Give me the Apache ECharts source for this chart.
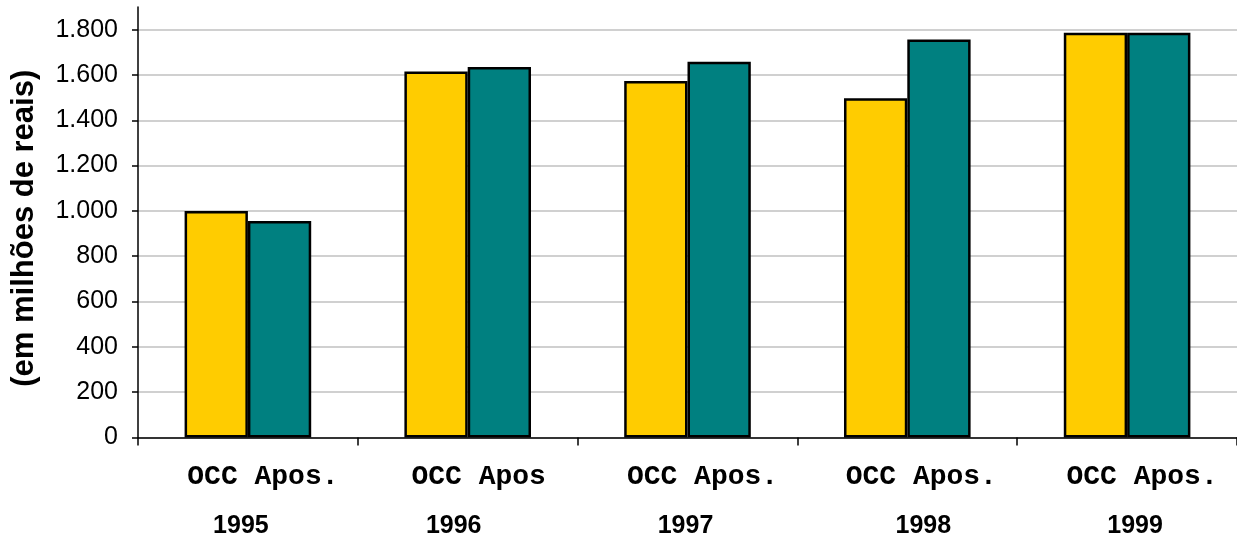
<!DOCTYPE html>
<html>
<head>
<meta charset="utf-8">
<script src="https://cdn.jsdelivr.net/npm/echarts@6/dist/echarts.min.js"></script>
<style>
  html, body { margin: 0; padding: 0; background: #ffffff; }
  #chart { width: 1237px; height: 539px; }
</style>
</head>
<body>
<div id="chart"></div>
<script>
// Anos e rótulos das barras
const years = ['1995', '1996', '1997', '1998', '1999'];
const pairLabels = ['OCC Apos.', 'OCC Apos', 'OCC Apos.', 'OCC Apos.', 'OCC Apos.'];

// Valores em milhões de reais
const occValues = [1000, 1615, 1573, 1497, 1786];
const aposValues = [956, 1635, 1658, 1757, 1786];

// Marcas do eixo vertical
const yTicks = [0, 200, 400, 600, 800, 1000, 1200, 1400, 1600, 1800];

// Pequenos deslocamentos horizontais dos rótulos de cada ano
const occShift = [15, 11, 15, 14, 15];
const yearShift = [-7, -14, -2, 16, 8];

function shiftPad(dx) {
  return dx >= 0 ? [0, 0, 0, 2 * dx] : [0, -2 * dx, 0, 0];
}

const rich = {};
years.forEach((y, i) => {
  rich['o' + i] = {
    fontFamily: '"Liberation Mono", "Courier New", monospace',
    fontWeight: 'bold',
    fontSize: 28,
    color: '#000',
    lineHeight: 50,
    padding: shiftPad(occShift[i])
  };
  rich['y' + i] = {
    fontFamily: '"Liberation Sans", Arial, sans-serif',
    fontWeight: 'bold',
    fontSize: 25,
    color: '#000',
    lineHeight: 50,
    padding: shiftPad(yearShift[i])
  };
});

const chart = echarts.init(document.getElementById('chart'), null, { renderer: 'canvas' });

chart.setOption({
  animation: false,
  backgroundColor: '#ffffff',
  grid: { left: 138, right: -3, top: 7, bottom: 101, containLabel: false },
  xAxis: {
    type: 'category',
    data: years,
    boundaryGap: true,
    axisLine: { lineStyle: { color: '#000', width: 1.5 } },
    axisTick: { show: true, length: 8, lineStyle: { color: '#000', width: 1.5 } },
    axisLabel: {
      interval: 0,
      margin: 14,
      formatter: (value, idx) => '{o' + idx + '|' + pairLabels[idx] + '}\n{y' + idx + '|' + value + '}',
      rich: rich
    },
    splitLine: { show: false }
  },
  yAxis: {
    type: 'value',
    min: 0,
    max: 1900,
    interval: 200,
    name: '(em milhões de reais)',
    nameLocation: 'middle',
    nameRotate: 90,
    nameGap: 98,
    nameTextStyle: {
      fontFamily: '"Liberation Sans", Arial, sans-serif',
      fontWeight: 'bold',
      fontSize: 31,
      color: '#000',
      padding: [0, 12, 0, 0]
    },
    axisLine: { show: true, lineStyle: { color: '#000', width: 1.5 } },
    axisTick: {
      show: true,
      inside: false,
      length: 6,
      customValues: yTicks,
      lineStyle: { color: '#000', width: 1.5 }
    },
    axisLabel: {
      margin: 20,
      customValues: yTicks,
      fontFamily: '"Liberation Sans", Arial, sans-serif',
      fontSize: 25,
      color: '#000',
      formatter: v => v.toLocaleString('pt-BR')
    },
    splitLine: {
      show: true,
      lineStyle: { color: '#c0c0c0', width: 1.5 }
    }
  },
  series: [
    {
      name: 'OCC',
      type: 'bar',
      data: occValues,
      barWidth: '28.8%',
      barGap: '0%',
      itemStyle: { color: '#FFCC00', borderColor: '#000', borderWidth: 2.5 }
    },
    {
      name: 'Apos.',
      type: 'bar',
      data: aposValues,
      barWidth: '28.8%',
      itemStyle: { color: '#008080', borderColor: '#000', borderWidth: 2.5 }
    }
  ]
});
</script>
</body>
</html>
